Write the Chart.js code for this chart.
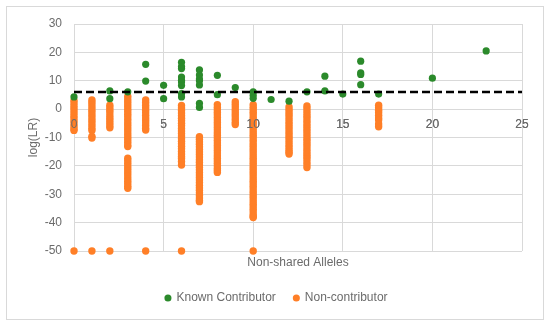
<!DOCTYPE html>
<html>
<head>
<meta charset="utf-8">
<script src="https://cdn.jsdelivr.net/npm/chart.js@4/dist/chart.umd.min.js"></script>
<style>
  html, body { margin: 0; padding: 0; background: #fff; }
  #wrap { width: 550px; height: 326px; position: relative; }
</style>
</head>
<body>
<div id="wrap"><canvas id="c" width="550" height="326"></canvas></div>
<script>
// ---- Data ----
const xTicks = [0, 5, 10, 15, 20, 25];
const yTicks = [-50, -40, -30, -20, -10, 0, 10, 20, 30];
const thresholdLR = 6;

// Known contributor: non-shared alleles and log(LR)
const knownAlleles = [0, 2, 2, 3, 4, 4, 5, 5,
  6, 6, 6, 6, 6, 6, 6, 6, 6,
  7, 7, 7, 7, 7, 7, 7,
  8, 8, 9, 10, 10, 10, 11, 12, 13, 14, 14, 15,
  16, 16, 16, 16, 17, 20, 23];
const knownLR = [4.3, 6.4, 3.7, 6.1, 15.8, 9.9, 8.4, 3.7,
  16.5, 15.0, 14.3, 11.3, 10.2, 9.6, 8.3, 5.5, 4.3,
  13.8, 12.0, 10.6, 10.0, 8.5, 2.0, 0.6,
  11.9, 5.1, 7.6, 6.1, 4.9, 3.8, 3.4, 2.8, 6.1, 11.6, 6.4, 5.3,
  16.9, 12.8, 12.2, 8.6, 5.3, 10.9, 20.5];

// Non-contributor: one list of log(LR) values per non-shared allele count
const nonAlleles = [0, 1, 2, 3, 4, 6, 7, 8, 9, 10, 12, 13, 17];
const nonLR = [
  [3.0, 2.2, 1.2, 0.3, -0.6, -1.5, -2.5, -3.4, -4.3, -5.2, -6.1, -7.0, -7.5, -50],
  [3.2, 2.4, 1.5, 0.6, -0.4, -1.3, -2.2, -3.1, -4.0, -4.9, -5.8, -6.7, -7.5, -9.6, -10.2, -50],
  [1.4, 0.5, -0.4, -1.3, -2.3, -3.2, -4.1, -5.0, -5.9, -6.6, -50],
  [4.5, 3.6, 2.7, 1.8, 0.9, 0.0, -0.9, -1.8, -2.7, -3.6, -4.5, -5.4, -6.3, -7.2, -8.1, -9.0, -9.9, -10.8, -11.7, -12.6, -13.2,
   -17.3, -18.2, -19.1, -20.0, -20.9, -21.8, -22.7, -23.6, -24.5, -25.4, -26.3, -27.2, -27.9],
  [3.2, 2.3, 1.4, 0.5, -0.4, -1.3, -2.2, -3.1, -4.0, -4.9, -5.8, -6.7, -7.4, -50],
  [1.3, 0.4, -0.5, -1.4, -2.3, -3.2, -4.1, -5.0, -5.9, -6.8, -7.7, -8.6, -9.5, -10.4, -11.3, -12.2, -13.1, -14.0, -14.9, -15.8, -16.7, -17.4, -18.5, -19.7, -50],
  [-9.7, -10.6, -11.5, -12.4, -13.3, -14.2, -15.1, -16.0, -16.9, -17.8, -18.7, -19.6, -20.5, -21.4, -22.3, -23.2, -24.1, -25.0, -25.9, -26.8, -27.7, -28.6, -29.5, -30.4, -31.3, -32.1, -32.6],
  [1.6, 0.7, -0.2, -1.1, -2.0, -2.9, -3.8, -4.7, -5.6, -6.5, -7.4, -8.3, -9.2, -10.1, -11.0, -11.9, -12.8, -13.7, -14.6, -15.5, -16.4, -17.3, -18.2, -19.1, -20.0, -20.9, -21.6, -22.3],
  [2.6, 1.7, 0.8, -0.1, -1.0, -1.9, -2.8, -3.7, -4.6, -5.4],
  [1.6, 0.7, -0.2, -1.1, -2.0, -2.9, -3.8, -4.7, -5.6, -6.5, -7.4, -8.3, -9.2, -10.1, -11.0, -11.9, -12.8, -13.7, -14.6, -15.5,
   -16.4, -17.3, -18.2, -19.1, -20.0, -20.9, -21.8, -22.7, -23.6, -24.5, -25.4, -26.3, -27.2, -28.1, -29.0, -29.9, -30.8, -31.7,
   -32.6, -33.5, -34.4, -35.3, -36.2, -37.1, -37.8, -38.2, -50],
  [0.8, -0.1, -1.0, -1.9, -2.8, -3.7, -4.6, -5.5, -6.4, -7.3, -8.2, -9.1, -10.0, -10.9, -11.8, -12.7, -13.6, -14.5, -15.2, -15.8],
  [1.1, 0.2, -0.7, -1.6, -2.5, -3.4, -4.3, -5.2, -6.1, -7.0, -7.9, -8.8, -9.7, -10.6, -11.5, -12.4, -13.3, -14.2, -15.1, -16.0, -16.8, -17.6, -18.6, -19.6, -20.6],
  [1.4, 0.5, -0.4, -1.3, -2.2, -3.1, -3.8, -5.2, -6.2]
];

// ---- Build library data ----
const knownPts = knownAlleles.map((x, i) => ({ x: x, y: knownLR[i] }));
const nonPts = [];
nonAlleles.forEach((x, i) => nonLR[i].forEach(v => nonPts.push({ x: x, y: v })));

const GREEN = '#2b8a2b';
const ORANGE = '#ff7f27';
const GRID = '#d9d9d9';
const TXT = '#6b6b6b';
const FONT = "'Liberation Sans', Arial, sans-serif";

const frame = {
  id: 'frame',
  beforeDraw(chart) {
    const ctx = chart.ctx;
    ctx.save();
    ctx.strokeStyle = '#d9d9d9';
    ctx.lineWidth = 1;
    ctx.strokeRect(6.5, 6.5, 537, 313);
    ctx.restore();
  },
  afterDatasetsDraw(chart) {
    // x tick labels sit on top of the markers, as in the reference
    chart.scales.x.drawLabels(chart.chartArea);
  }
};

new Chart(document.getElementById('c'), {
  type: 'scatter',
  data: {
    datasets: [
      {
        type: 'line',
        label: 'threshold',
        data: [{ x: xTicks[0], y: thresholdLR }, { x: xTicks[xTicks.length - 1], y: thresholdLR }],
        borderColor: '#000',
        borderWidth: 2.5,
        borderDash: [8, 4],
        pointRadius: 0,
        fill: false,
        clip: false,
        xAxisID: 'x'
      },
      {
        label: 'Known Contributor',
        data: knownPts,
        backgroundColor: GREEN,
        borderColor: GREEN,
        borderWidth: 0,
        pointRadius: 3.6,
        clip: false,
        xAxisID: 'x'
      },
      {
        label: 'Non-contributor',
        data: nonPts,
        backgroundColor: ORANGE,
        borderColor: ORANGE,
        borderWidth: 0,
        pointRadius: 3.7,
        clip: false,
        xAxisID: 'x'
      }
    ]
  },
  options: {
    responsive: false,
    animation: false,
    events: [],
    layout: { padding: { left: 31, top: 24, right: 28, bottom: 12 } },
    plugins: {
      tooltip: { enabled: false },
      legend: {
        position: 'bottom',
        labels: {
          filter: item => item.text !== 'threshold',
          usePointStyle: true,
          pointStyle: 'circle',
          boxWidth: 5,
          boxHeight: 5,
          padding: 18,
          color: TXT,
          font: { family: FONT, size: 12 }
        }
      }
    },
    scales: {
      x: {
        type: 'linear',
        position: { y: 0 },
        min: 0, max: 25,
        afterBuildTicks: s => { s.ticks = xTicks.map(v => ({ value: v })); },
        ticks: { color: TXT, font: { family: FONT, size: 12 }, padding: 8, maxRotation: 0 },
        grid: { color: GRID, drawTicks: false },
        border: { color: GRID }
      },
      x2: {
        type: 'linear',
        axis: 'x',
        position: 'bottom',
        min: 0, max: 25,
        afterFit: s => { s.height = 23; },
        ticks: { display: false },
        grid: { display: false },
        border: { display: false },
        title: { display: true, text: 'Non-shared Alleles', color: TXT, font: { family: FONT, size: 12 }, padding: { top: 3, bottom: 4 } }
      },
      y: {
        type: 'linear',
        min: -50, max: 30,
        afterFit: s => { s.width = 43; },
        afterBuildTicks: s => { s.ticks = yTicks.map(v => ({ value: v })); },
        ticks: { color: TXT, font: { family: FONT, size: 12 }, padding: 12 },
        grid: { color: GRID, drawTicks: false },
        border: { color: GRID },
        title: { display: true, text: 'log(LR)', color: TXT, font: { family: FONT, size: 12 }, padding: { top: -5, bottom: 4 } }
      }
    }
  },
  plugins: [frame]
});
</script>
</body>
</html>
